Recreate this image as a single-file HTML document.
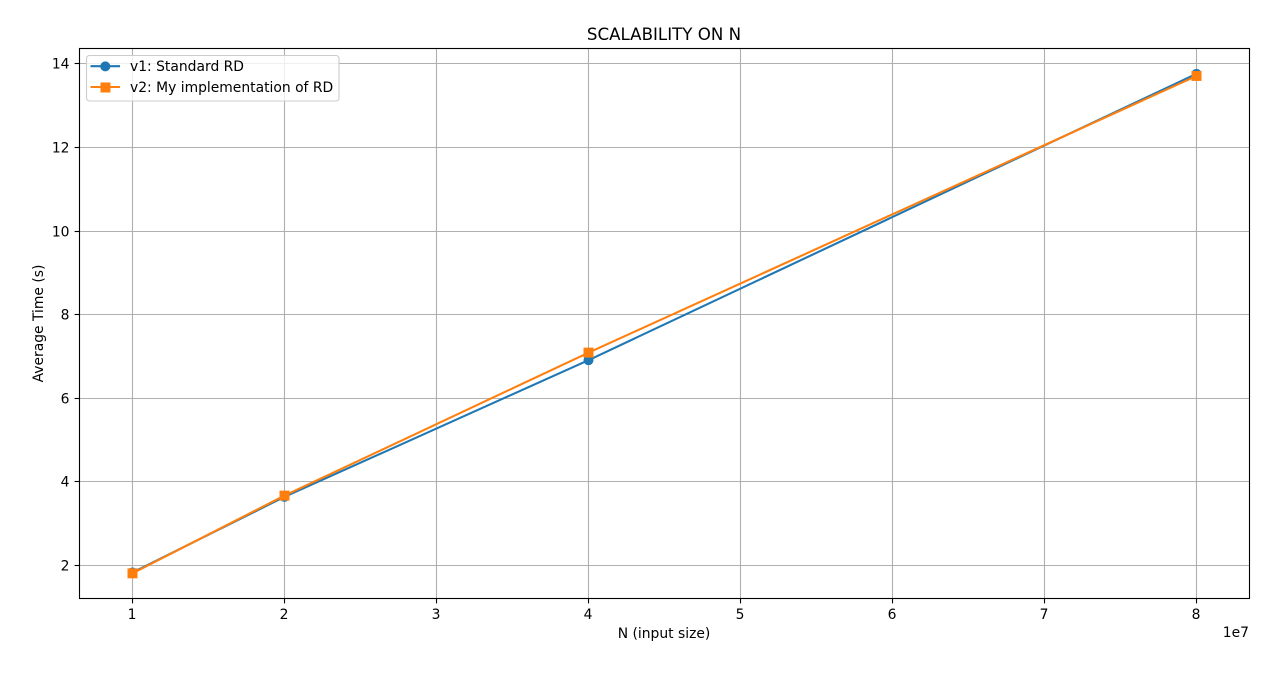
<!DOCTYPE html>
<html lang="en">
<head>
<meta charset="utf-8">
<title>Scalability on N</title>
<style>
html,body{margin:0;padding:0;background:#fff;width:1268px;height:677px;overflow:hidden}
svg{display:block}
text{font-family:"DejaVu Sans",sans-serif;fill:#000;font-size:13.89px}
</style>
</head>
<body>
<svg id="chart" xmlns="http://www.w3.org/2000/svg" width="1268" height="677" viewBox="0 0 1268 677">
  <rect x="0" y="0" width="1268" height="677" fill="#fff"/>
  <g id="grid"></g>
  <g id="series"></g>
  <g id="ticks"></g>
  <rect x="79.5" y="48.5" width="1170" height="550" fill="none" stroke="#000" stroke-width="1.11"/>
  <text x="664" y="40" text-anchor="middle" style="font-size:16.67px">SCALABILITY ON N</text>
  <text x="664" y="638" text-anchor="middle">N (input size)</text>
  <text transform="translate(43 323.5) rotate(-90)" text-anchor="middle">Average Time (s)</text>
  <text x="1249" y="637" text-anchor="end">1e7</text>
  <g>
    <rect x="86.5" y="55.5" width="252.5" height="45.5" rx="3" ry="3" fill="#fff" fill-opacity="0.8" stroke="#ccc" stroke-width="1.11"/>
    <g>
      <line x1="90.5" y1="66.2" x2="120" y2="66.2" stroke="#1f77b4" stroke-width="2.08"/>
      <circle cx="105.3" cy="66.4" r="5" fill="#1f77b4"/>
      <text x="130" y="71">v1: Standard RD</text>
    </g>
    <g>
      <line x1="90.5" y1="87" x2="120" y2="87" stroke="#ff7f0e" stroke-width="2.08"/>
      <rect x="100.5" y="82.5" width="10" height="10" fill="#ff7f0e"/>
      <text x="130" y="92">v2: My implementation of RD</text>
    </g>
  </g>
</svg>
<script>
const nValues = [1, 2, 4, 8];
const v1Times = [1.83, 3.64, 6.91, 13.76];
const v2Times = [1.81, 3.67, 7.09, 13.71];
const xTickValues = [1, 2, 3, 4, 5, 6, 7, 8];
const yTickValues = [2, 4, 6, 8, 10, 12, 14];

const NS = 'http://www.w3.org/2000/svg';
function xScale(v) { return 132.5 + (v - 1) * 152; }
function yScale(v) { return 565.4 - (v - 2) * 41.8; }
function make(tag, attrs, parent) {
  const el = document.createElementNS(NS, tag);
  for (const k in attrs) el.setAttribute(k, attrs[k]);
  parent.appendChild(el);
  return el;
}
const gridG = document.getElementById('grid');
const ticksG = document.getElementById('ticks');
const seriesG = document.getElementById('series');

xTickValues.forEach(function (t) {
  const x = Math.floor(xScale(t)) + 0.5;
  const g = make('line', { x1: x, x2: x, y1: 48.5, y2: 598.5, stroke: '#b0b0b0', 'stroke-width': 1.11 }, gridG);
  
  
  const tick = make('line', { x1: x, x2: x, y1: 598.5, y2: 603.4, stroke: '#000', 'stroke-width': 1.11 }, ticksG);
  
  
  const label = make('text', { x: x - 0.5, y: 619, 'text-anchor': 'middle' }, ticksG);
  
  
  label.textContent = String(t);
});

yTickValues.forEach(function (t) {
  const y = Math.floor(yScale(t)) + 0.5;
  const g = make('line', { x1: 79.5, x2: 1249.5, y1: y, y2: y, stroke: '#b0b0b0', 'stroke-width': 1.11 }, gridG);
  
  
  const tick = make('line', { x1: 74.6, x2: 79.5, y1: y, y2: y, stroke: '#000', 'stroke-width': 1.11 }, ticksG);
  
  
  const label = make('text', { x: 69.5, y: y + 5, 'text-anchor': 'end' }, ticksG);
  
  
  label.textContent = String(t);
});

function pointsFor(values) {
  return values.map(function (v, i) { return xScale(nValues[i]) + ',' + yScale(v); }).join(' ');
}

const lineV1 = make('polyline', { points: pointsFor(v1Times), fill: 'none', stroke: '#1f77b4', 'stroke-width': 2.08, 'stroke-linejoin': 'round' }, seriesG);


v1Times.forEach(function (v, i) {
  const c = make('circle', { cx: xScale(nValues[i]), cy: yScale(v), r: 5, fill: '#1f77b4' }, seriesG);
  
  
});

const lineV2 = make('polyline', { points: pointsFor(v2Times), fill: 'none', stroke: '#ff7f0e', 'stroke-width': 2.08, 'stroke-linejoin': 'round' }, seriesG);


v2Times.forEach(function (v, i) {
  const s = make('rect', { x: xScale(nValues[i]) - 5, y: yScale(v) - 5, width: 10, height: 10, fill: '#ff7f0e' }, seriesG);
  
  
});
</script>
</body>
</html>
